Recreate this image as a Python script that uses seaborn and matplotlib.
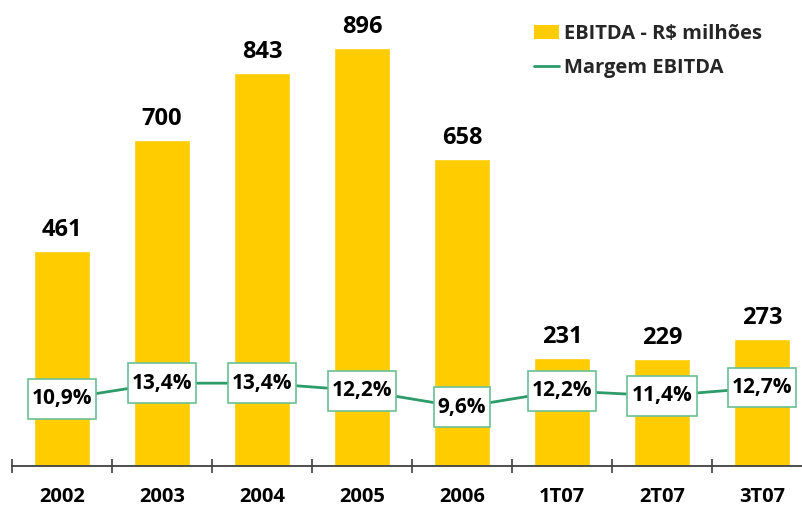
import matplotlib
matplotlib.use("Agg")
import matplotlib.pyplot as plt
import seaborn as sns
import pandas as pd
from matplotlib.patches import Patch
from matplotlib.lines import Line2D
from matplotlib.path import Path

categories = ["2002", "2003", "2004", "2005", "2006", "1T07", "2T07", "3T07"]
ebitda = [461, 700, 843, 896, 658, 231, 229, 273]
margem = [10.9, 13.4, 13.4, 12.2, 9.6, 12.2, 11.4, 12.7]
margem_labels = ["10,9%", "13,4%", "13,4%", "12,2%", "9,6%", "12,2%", "11,4%", "12,7%"]

bar_color = "#FFCC00"
line_color = "#2E9B6A"
box_edge = "#6CBF95"

sns.set_theme(style="white")
plt.rcParams["font.family"] = ["Open Sans", "DejaVu Sans"]


def label_box(x0, y0, width, height, mutation_size):
    padx = 0.2 * mutation_size
    pady = 0.45 * mutation_size
    xa, xb = x0 - padx, x0 + width + padx
    ya, yb = y0 - pady, y0 + height + pady
    return Path([(xa, ya), (xb, ya), (xb, yb), (xa, yb), (xa, ya)],
                [Path.MOVETO, Path.LINETO, Path.LINETO, Path.LINETO, Path.CLOSEPOLY])


df = pd.DataFrame({"cat": categories, "ebitda": ebitda, "margem": margem})

fig = plt.figure(figsize=(8.02, 5.08), dpi=100)
ax = fig.add_axes([12 / 802, 42 / 508, 1 - 12 / 802, 1 - 42 / 508])

sns.barplot(data=df, x="cat", y="ebitda", color=bar_color, width=0.56,
            saturation=1, ax=ax, zorder=2)
ax.set_ylim(0, 1000)
ax.set_xlim(-0.5, 7.4)
ax.set_xlabel("")
ax.set_ylabel("")
ax.set_yticks([])
for s in ["top", "right", "left"]:
    ax.spines[s].set_visible(False)
ax.spines["bottom"].set_color("#404040")
ax.spines["bottom"].set_linewidth(1.3)

ax.set_xticks(range(len(categories)))
ax.set_xticklabels(categories, fontsize=14.5, fontweight="bold", color="black")
ax.tick_params(axis="x", which="major", length=0, pad=15)
ax.set_xticks([i - 0.5 for i in range(len(categories))], minor=True)
ax.tick_params(axis="x", which="minor", direction="inout", length=10,
               width=1.2, color="#404040", bottom=True)

for i, v in enumerate(ebitda):
    ax.annotate(str(v), (i, v), xytext=(0, 11), textcoords="offset points",
                ha="center", va="baseline", fontsize=17, fontweight="bold",
                color="black")

ax2 = ax.twinx()
sns.lineplot(x=list(range(len(categories))), y=margem, color=line_color,
             linewidth=2, ax=ax2, zorder=3)
ax2.set_ylim(0.3, 74)
ax2.set_yticks([])
ax2.set_ylabel("")
for s in ["top", "right", "left", "bottom"]:
    ax2.spines[s].set_visible(False)

for i, (v, lab) in enumerate(zip(margem, margem_labels)):
    ax2.text(i, v, lab, ha="center", va="center", fontsize=15,
             fontweight="bold", color="black", zorder=5,
             bbox=dict(boxstyle=label_box, facecolor="white",
                       edgecolor=box_edge, linewidth=1.2))

handles = [Patch(facecolor=bar_color, edgecolor="none", label="EBITDA - R$ milhões"),
           Line2D([0], [0], color=line_color, linewidth=2, label="Margem EBITDA")]
fig.legend(handles=handles, loc="upper left", bbox_to_anchor=(516 / 802, 1 - 6 / 508),
           frameon=False, prop={"weight": "bold", "size": 14.5},
           handlelength=1.25, handleheight=0.65, handletextpad=0.25, labelspacing=0.7)

fig.savefig("out.png", dpi=100)
